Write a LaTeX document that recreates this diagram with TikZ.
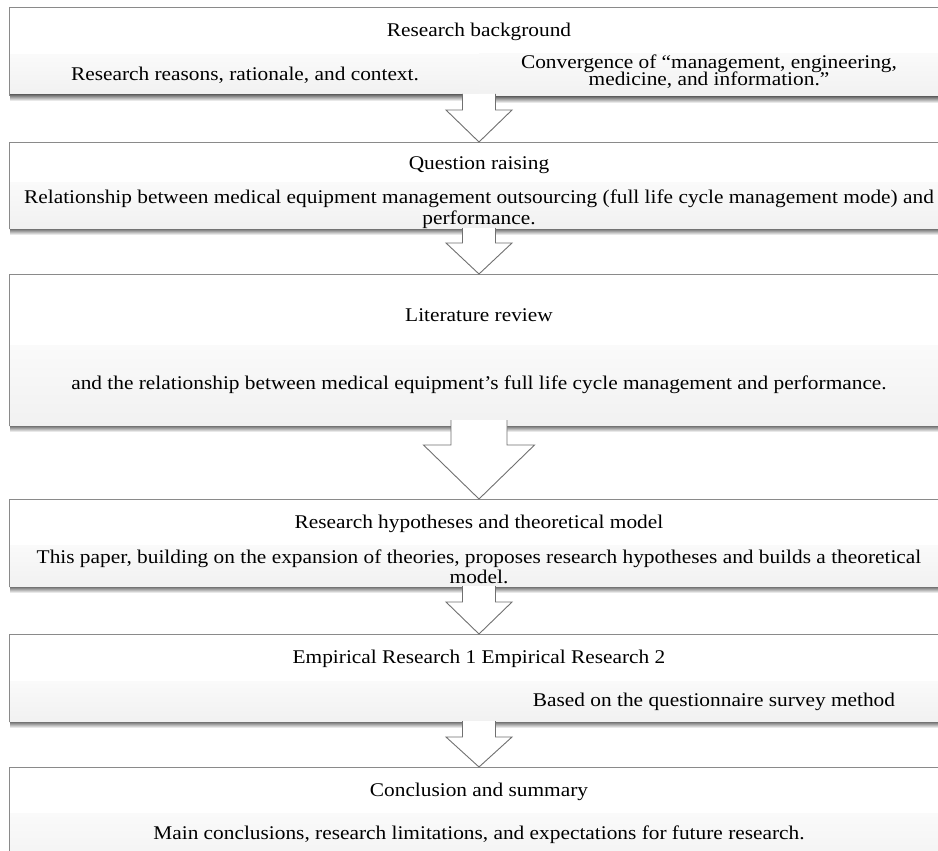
\documentclass[tikz,border=0pt]{standalone}
\usepackage{fontspec}
\setmainfont{Liberation Serif}[FakeStretch=1.1]
\usetikzlibrary{calc}
\definecolor{framecol}{HTML}{8A8A8A}
\definecolor{arrowcol}{HTML}{707070}
\definecolor{bandtop}{HTML}{FAFAFA}
\definecolor{bandbot}{HTML}{F1F1F1}
\newcommand\tightlines{\lineskiplimit=-50pt\relax}
\tikzset{
  frame/.style={draw=framecol, line width=0.9pt, fill=white, inner sep=0pt, outer sep=0pt,
                anchor=north west, minimum width=940pt},
  band/.style={inner sep=0pt, outer sep=0pt, anchor=north west, top color=bandtop,
               bottom color=bandbot, draw=none},
  txt/.style={font=\fontsize{19.4}{21}\selectfont, inner sep=0pt, text=black, anchor=base},
  mtxtA/.style={font=\fontsize{19.4}{16.5}\selectfont\tightlines, inner sep=0pt,
               text=black, anchor=north, align=center},
  mtxtB/.style={font=\fontsize{19.4}{21}\selectfont\tightlines, inner sep=0pt,
               text=black, anchor=north, align=center},
  mtxtC/.style={font=\fontsize{19.4}{20}\selectfont\tightlines, inner sep=0pt,
               text=black, anchor=north, align=center},
  arrowline/.style={draw=arrowcol, line width=0.9pt, line join=miter}}
\newcommand\bandshadow[1]{%
  \shade[top color=black!55, bottom color=white] ($(#1.south west)+(1,0)$) rectangle ($(#1.south east)+(0,6)$);}
\newcommand\leftedge[1]{%
  \draw[framecol, line width=0.9pt] (#1.north west) -- (#1.south west);}
% #1 from node, #2 to node, #3 shaft half width, #4 head half width, #5 neck length, #6 lift
\newcommand\blockarrow[6]{%
  \coordinate (ba) at ($(#1.south)+(0,-#6)$);
  \fill[white] ($(ba)+(-#3,0)$) -- ($(ba)+(-#3,#5)$) -- ($(ba)+(-#4,#5)$) -- (#2.north)
     -- ($(ba)+(#4,#5)$) -- ($(ba)+(#3,#5)$) -- ($(ba)+(#3,0)$) -- cycle;
  \draw[arrowline] ($(ba)+(-#3,0)$) -- ($(ba)+(-#3,#5)$) -- ($(ba)+(-#4,#5)$) -- (#2.north)
     -- ($(ba)+(#4,#5)$) -- ($(ba)+(#3,#5)$) -- ($(ba)+(#3,0)$);}
\begin{document}
\begin{tikzpicture}[x=1pt,y=-1pt]
\useasboundingbox (0,0) rectangle (938,851);
\clip (0,0) rectangle (938,851);
\fill[white] (0,0) rectangle (938,851);

% Box 1
\node[frame, minimum height=88pt] (f1) at (9,7) {};
\node[band, minimum width=470pt, minimum height=40pt] (b1l) at (9,55) {};
\node[band, minimum width=470pt, minimum height=43pt] (b1r) at (479,54) {};
\bandshadow{b1l}\bandshadow{b1r}\leftedge{f1}
\node[txt] (t1) at (479,37) {Research background};
\node[txt] (t1l) at (245,81) {Research reasons, rationale, and context.};
\node[mtxtA] (t1r) at (709,55) {Convergence of “management, engineering,\\medicine, and information.”};

% Box 2
\node[frame, minimum height=87pt] (f2) at (9,142) {};
\node[band, minimum width=940pt, minimum height=47pt] (b2) at (9,182) {};
\bandshadow{b2}\leftedge{f2}
\node[txt] (t2) at (479,169) {Question raising};
\node[mtxtB] (t2b) at (479,189.5) {Relationship between medical equipment management outsourcing (full life cycle management mode) and\\performance.};

% Box 3
\node[frame, minimum height=152pt] (f3) at (9,274) {};
\node[band, minimum width=940pt, minimum height=81pt] (b3) at (9,345) {};
\bandshadow{b3}\leftedge{f3}
\node[txt] (t3) at (479,321) {Literature review};
\node[txt] (t3b) at (479,389) {and the relationship between medical equipment’s full life cycle management and performance.};

% Box 4
\node[frame, minimum height=88pt] (f4) at (9,499) {};
\node[band, minimum width=940pt, minimum height=42pt] (b4) at (9,545) {};
\bandshadow{b4}\leftedge{f4}
\node[txt] (t4) at (479,528) {Research hypotheses and theoretical model};
\node[mtxtC] (t4b) at (479,549.5) {This paper, building on the expansion of theories, proposes research hypotheses and builds a theoretical\\model.};

% Box 5
\node[frame, minimum height=88pt] (f5) at (9,634) {};
\node[band, minimum width=470pt, minimum height=41pt] (b5l) at (9,681) {};
\node[band, minimum width=470pt, minimum height=41pt] (b5r) at (479,681) {};
\bandshadow{b5l}\bandshadow{b5r}\leftedge{f5}
\node[txt] (t5) at (479,663) {Empirical Research 1 Empirical Research 2};
\node[txt] (t5r) at (714,706) {Based on the questionnaire survey method};

% Box 6
\node[frame, minimum height=110pt] (f6) at (9,767) {};
\node[band, minimum width=940pt, minimum height=64pt] (b6) at (9,813) {};
\leftedge{f6}
\node[txt] (t6) at (479,796) {Conclusion and summary};
\node[txt] (t6b) at (479,839) {Main conclusions, research limitations, and expectations for future research.};

% Block arrows
\blockarrow{f1}{f2}{16.5}{33}{16}{1}
\blockarrow{f2}{f3}{16.5}{33}{15}{1}
\blockarrow{f3}{f4}{28}{55.5}{25}{6}
\blockarrow{f4}{f5}{16.5}{33}{16}{1}
\blockarrow{f5}{f6}{16.5}{33}{16}{1}
\end{tikzpicture}
\end{document}
